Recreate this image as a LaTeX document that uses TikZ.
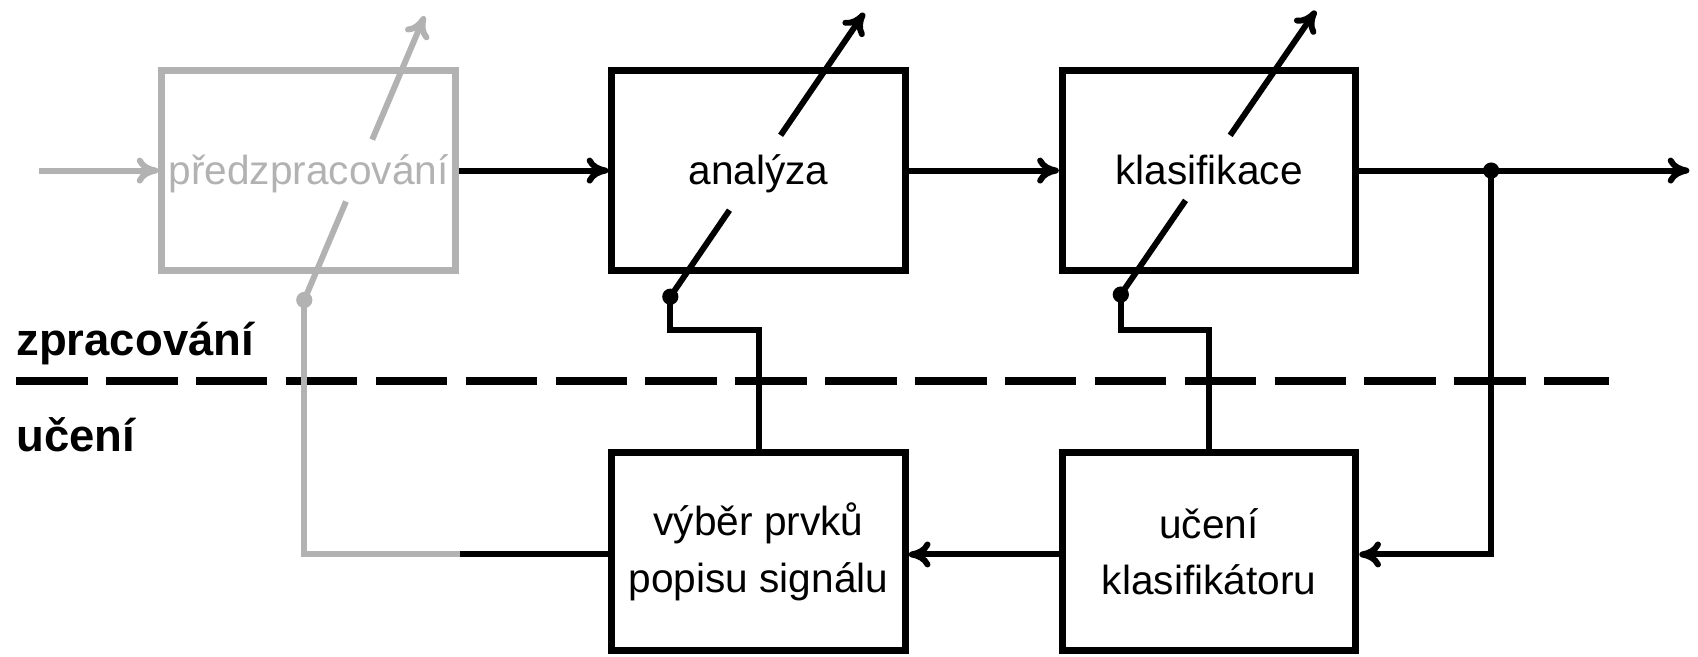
\documentclass[tikz,border=0pt]{standalone}
\usepackage{fontspec}
\setmainfont{Liberation Sans}
\usetikzlibrary{arrows.meta,calc}
\definecolor{faded}{RGB}{178,178,178}
\begin{document}
\begin{tikzpicture}[x=1pt,y=-1pt,
  every node/.style={font=\fontsize{37.5}{52}\selectfont},
  blockbox/.style={draw, line width=6.5pt, minimum width=271pt, minimum height=185pt,
                   inner sep=0pt, align=center},
  single/.style={text height=30pt, text depth=5pt},
  wire/.style={line width=5.5pt},
  flow/.style={wire, -{To[length=20pt,width=24pt]}},
  tuner/.style={line width=5.5pt},
  tiparrow/.style={-{To[length=20pt,width=24pt]}},
  junction/.style={circle, fill, inner sep=0pt, minimum size=15pt},
  tag/.style={font=\fontsize{42}{50}\selectfont\bfseries, anchor=base west, inner sep=0pt},
]
\useasboundingbox (0,0) rectangle (1568,606);

% processing / learning separator
\coordinate (sepL) at (15,352);
\coordinate (sepR) at (1486,352);
\draw[line width=7.5pt, dash pattern=on 66pt off 17pt] (sepL) -- (sepR);

\node[tag] (tproc) at (15,328) {zpracování};
\node[tag] (tlearn) at (15,417) {učení};

% blocks
\node[blockbox, single, draw=faded, text=faded] (pre) at (285,157.5) {předzpracování};
\node[blockbox, single] (ana) at (700.5,157.5) {analýza};
\node[blockbox, single] (cls) at (1116.5,157.5) {klasifikace};
\node[blockbox, minimum height=183pt] (sel) at (700.5,509.5) {výběr prvků\\popisu signálu};
\node[blockbox, minimum height=183pt] (lrn) at (1116.5,509.5) {učení\\klasifikátoru};

% main signal path
\coordinate (src) at (36,157.5);
\coordinate (split) at (1377,157.5);
\coordinate (out) at (1560,157.5);
\draw[flow, faded] (src) -- (pre.west);
\draw[flow] (pre.east) -- (ana.west);
\draw[flow] (ana.east) -- (cls.west);
\draw[flow] (cls.east) -- (out);
\node[junction] (splitdot) at (split) {};

% learning feedback
\coordinate (fbcorner) at (1377,512);
\coordinate (fadeStart) at (425,512);
\coordinate (fadeCorner) at (281,512);
\draw[flow] (split) -- (fbcorner) -- (lrn.east |- fbcorner);
\draw[flow] (lrn.west |- fbcorner) -- (sel.east |- fbcorner);
\draw[wire] (sel.west |- fbcorner) -- (fadeStart);

% adjustable parameters of the blocks
\coordinate (preDot) at (281,277);
\coordinate (preTip) at (392,15);
\draw[wire, faded] (fadeStart) -- (fadeCorner) -- (preDot);
\draw[tuner, faded] (preDot) -- ($(preDot)!0.347!(preTip)$);
\draw[tuner, faded, tiparrow] ($(preDot)!0.565!(preTip)$) -- (preTip);
\node[junction, faded] (preJ) at (preDot) {};

\coordinate (anaDot) at (619,274);
\coordinate (anaTip) at (798,12);
\coordinate (anaBend) at (619,305);
\draw[wire] (anaDot) -- (anaBend) -| (sel.north);
\draw[tuner] (anaDot) -- ($(anaDot)!0.305!(anaTip)$);
\draw[tuner, tiparrow] ($(anaDot)!0.569!(anaTip)$) -- (anaTip);
\node[junction] (anaJ) at (anaDot) {};

\coordinate (clsDot) at (1035,272);
\coordinate (clsTip) at (1215,10);
\coordinate (clsBend) at (1035,305);
\draw[wire] (clsDot) -- (clsBend) -| (lrn.north);
\draw[tuner] (clsDot) -- ($(clsDot)!0.332!(clsTip)$);
\draw[tuner, tiparrow] ($(clsDot)!0.561!(clsTip)$) -- (clsTip);
\node[junction] (clsJ) at (clsDot) {};
\end{tikzpicture}
\end{document}
